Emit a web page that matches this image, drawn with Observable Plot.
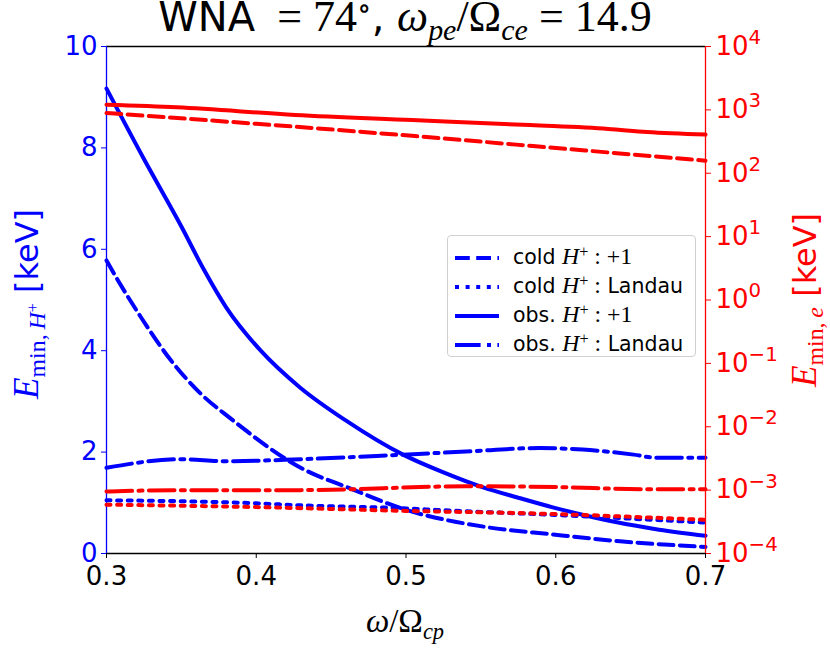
<!DOCTYPE html>
<html><head><meta charset="utf-8">
<script src="https://cdn.jsdelivr.net/npm/d3@7"></script>
<script src="https://cdn.jsdelivr.net/npm/@observablehq/plot@0.6"></script>
<style>
body{margin:0;background:#fff;}
#wrap{position:relative;width:830px;height:648px;overflow:hidden;font-family:"DejaVu Sans";}
#wrap svg{position:absolute;left:0;top:0;}
.m{font-family:"Liberation Serif","DejaVu Serif",serif;font-size:1.1em;}
.lab{position:absolute;white-space:nowrap;transform:translate(-50%,-50%) rotate(-90deg);font-size:32px;line-height:1;}
.sb{font-size:0.68em;position:relative;top:0.3em;}
.sp{font-size:0.68em;position:relative;top:-0.45em;}
#title{position:absolute;left:0;width:810px;top:-3px;text-align:center;font-size:40px;line-height:40px;white-space:nowrap;}
#xlab{position:absolute;left:0;width:810px;top:604px;text-align:center;font-size:30px;line-height:34px;}
#legend{position:absolute;left:447px;top:235px;width:249px;height:122px;border:1px solid #d0d0d0;border-radius:4px;background:rgba(255,255,255,0.8);box-sizing:border-box;}
.row{position:absolute;left:0;height:28px;font-size:20.5px;line-height:28px;white-space:nowrap;}
.row .m{font-size:1.16em;}
.row svg{position:static !important;vertical-align:middle;margin-left:7px;margin-right:14px;}
</style></head><body><div id="wrap"></div>
<script>
// ---- tick labels ----
const xTicks = [0.3, 0.4, 0.5, 0.6, 0.7];
const yLeftTicks = [0, 2, 4, 6, 8, 10];
const yRightTicks = [1e-4, 1e-3, 1e-2, 1e-1, 1e0, 1e1, 1e2, 1e3, 1e4];

// ---- H+ (left axis, keV) ----
const coldPlus1X = [0.300, 0.309, 0.323, 0.343, 0.363, 0.383, 0.431, 0.463, 0.498, 0.554, 0.598, 0.643, 0.700];
const coldPlus1Y = [5.78, 5.32, 4.66, 3.81, 3.15, 2.66, 1.67, 1.28, 0.88, 0.52, 0.375, 0.24, 0.13];

const coldLandauX = [0.30, 0.40, 0.43, 0.50, 0.52, 0.60, 0.70];
const coldLandauY = [1.05, 0.99, 0.95, 0.89, 0.86, 0.76, 0.61];

const obsPlus1X = [0.300, 0.325, 0.350, 0.365, 0.380, 0.403, 0.429, 0.460, 0.498, 0.525, 0.551, 0.575, 0.598, 0.620, 0.640, 0.669, 0.700];
const obsPlus1Y = [9.17, 7.78, 6.45, 5.60, 4.85, 4.00, 3.28, 2.62, 1.95, 1.60, 1.31, 1.10, 0.91, 0.75, 0.62, 0.47, 0.35];

const obsLandauX = [0.300, 0.350, 0.380, 0.430, 0.498, 0.540, 0.589, 0.618, 0.652, 0.667, 0.700];
const obsLandauY = [1.69, 1.86, 1.82, 1.86, 1.95, 2.01, 2.08, 2.05, 1.95, 1.89, 1.89];

// ---- electrons (right axis, keV, log) ----
const eColdPlus1X = [0.300, 0.400, 0.504, 0.609, 0.700];
const eColdPlus1Y = [891, 603, 389, 240, 158];

const eColdLandauX = [0.300, 0.400, 0.500, 0.583, 0.700];
const eColdLandauY = [5.9e-4, 5.4e-4, 4.7e-4, 4.3e-4, 3.4e-4];

const eObsPlus1X = [0.300, 0.347, 0.426, 0.504, 0.583, 0.635, 0.661, 0.700];
const eObsPlus1Y = [1202, 1096, 832, 692, 575, 501, 447, 407];

const eObsLandauX = [0.300, 0.350, 0.430, 0.540, 0.600, 0.660, 0.700];
const eObsLandauY = [9.5e-4, 1.0e-3, 1.0e-3, 1.15e-3, 1.12e-3, 1.03e-3, 1.03e-3];

const tbl = (xs, ys) => xs.map((x, i) => ({x, y: ys[i]}));

const DASH = "14.8,6.4", DOT = "4,6.6", DASHDOT = "25.6,6.4,4,6.4";
const LW = 4;
const dims = {width: 830, height: 648, marginLeft: 106, marginRight: 125, marginTop: 46, marginBottom: 95};
const style = {fontFamily: "DejaVu Sans", fontSize: "26px", background: "transparent", overflow: "visible"};

const blue = "#0000ff", red = "#ff0000";

const p1 = Plot.plot({
  ...dims, style,
  x: {domain: [0.3, 0.7], axis: null},
  y: {domain: [0, 10], axis: null},
  marks: [
    Plot.line(tbl(coldPlus1X, coldPlus1Y), {x: "x", y: "y", stroke: blue, strokeWidth: LW, strokeDasharray: DASH, curve: "monotone-x"}),
    Plot.line(tbl(coldLandauX, coldLandauY), {x: "x", y: "y", stroke: blue, strokeWidth: LW, strokeDasharray: DOT, curve: "monotone-x"}),
    Plot.line(tbl(obsPlus1X, obsPlus1Y), {x: "x", y: "y", stroke: blue, strokeWidth: LW, curve: "monotone-x"}),
    Plot.line(tbl(obsLandauX, obsLandauY), {x: "x", y: "y", stroke: blue, strokeWidth: LW, strokeDasharray: DASHDOT, curve: "monotone-x"}),
    Plot.ruleY([0], {stroke: "black", strokeWidth: 1.3}),
    Plot.ruleY([10], {stroke: "black", strokeWidth: 1.3}),
    Plot.ruleX([0.3], {stroke: blue, strokeWidth: 1.3}),
    Plot.axisX({ticks: xTicks, tickFormat: d3.format(".1f"), tickSize: 5, tickPadding: 8, fontSize: 26, label: null, color: "black"}),
    Plot.axisY({ticks: yLeftTicks, tickFormat: d3.format("d"), tickSize: 5, tickPadding: 4, fontSize: 26, label: null, color: blue})
  ]
});

const p2 = Plot.plot({
  ...dims, style,
  x: {domain: [0.3, 0.7], axis: null},
  y: {type: "log", domain: [1e-4, 1e4], axis: null},
  marks: [
    Plot.line(tbl(eColdPlus1X, eColdPlus1Y), {x: "x", y: "y", stroke: red, strokeWidth: LW, strokeDasharray: DASH, curve: "monotone-x"}),
    Plot.line(tbl(eColdLandauX, eColdLandauY), {x: "x", y: "y", stroke: red, strokeWidth: LW, strokeDasharray: DOT, curve: "monotone-x"}),
    Plot.line(tbl(eObsPlus1X, eObsPlus1Y), {x: "x", y: "y", stroke: red, strokeWidth: LW, curve: "monotone-x"}),
    Plot.line(tbl(eObsLandauX, eObsLandauY), {x: "x", y: "y", stroke: red, strokeWidth: LW, strokeDasharray: DASHDOT, curve: "monotone-x"}),
    Plot.ruleX([0.7], {stroke: red, strokeWidth: 1.3}),
    Plot.axisY({anchor: "right", ticks: yRightTicks, tickFormat: d => String(Math.round(Math.log10(d))), tickSize: 5, tickPadding: 5, fontSize: 26, label: null, color: red})
  ]
});

const wrap = document.getElementById("wrap");
wrap.appendChild(p1);
wrap.appendChild(p2);

// right tick labels as 10 with superscript exponent
d3.select(p2).selectAll('g[aria-label="y-axis tick label"] text').each(function() {
  const e = this.textContent.replace("-", "\u2212");
  const t = d3.select(this);
  t.text(null);
  t.append("tspan").text("10");
  t.append("tspan").attr("dy", "-0.55em").attr("font-size", "0.76em").text(e);
});

wrap.insertAdjacentHTML("beforeend", `
<div id="title"><span>WNA</span><span class="m">&ensp;= 74<span class="sp">∘</span></span><span>, </span><span class="m"><i>ω</i><span class="sb"><i>pe</i></span>/Ω<span class="sb"><i>ce</i></span> = 14.9</span></div>
<div id="xlab"><span class="m"><i>ω</i>/Ω<span class="sb"><i>cp</i></span></span></div>
<div class="lab" style="left:27px;top:304px;color:${blue}"><span class="m"><i>E</i><span class="sb">min,&thinsp;<i>H</i><span class="sp">+</span></span></span> [keV]</div>
<div class="lab" style="left:805px;top:300px;color:${red}"><span class="m"><i>E</i><span class="sb">min,&thinsp;<i>e</i></span></span> [keV]</div>
<div id="legend"></div>`);

const legendItems = [
  {dash: DASH, html: `cold <span class="m"><i>H</i><span class="sp">+</span> : +1</span>`},
  {dash: DOT, html: `cold <span class="m"><i>H</i><span class="sp">+</span> :</span> Landau`},
  {dash: null, html: `obs. <span class="m"><i>H</i><span class="sp">+</span> : +1</span>`},
  {dash: DASHDOT, html: `obs. <span class="m"><i>H</i><span class="sp">+</span> :</span> Landau`}
];
const leg = document.getElementById("legend");
legendItems.forEach((it, i) => {
  const row = document.createElement("div");
  row.className = "row";
  row.style.top = (6 + i * 29) + "px";
  row.innerHTML = `<svg width="44" height="10"><line x1="0" y1="5" x2="44" y2="5" stroke="${blue}" stroke-width="4" ${it.dash ? `stroke-dasharray="${it.dash}"` : ""}/></svg>${it.html}`;
  leg.appendChild(row);
});
</script></body></html>
